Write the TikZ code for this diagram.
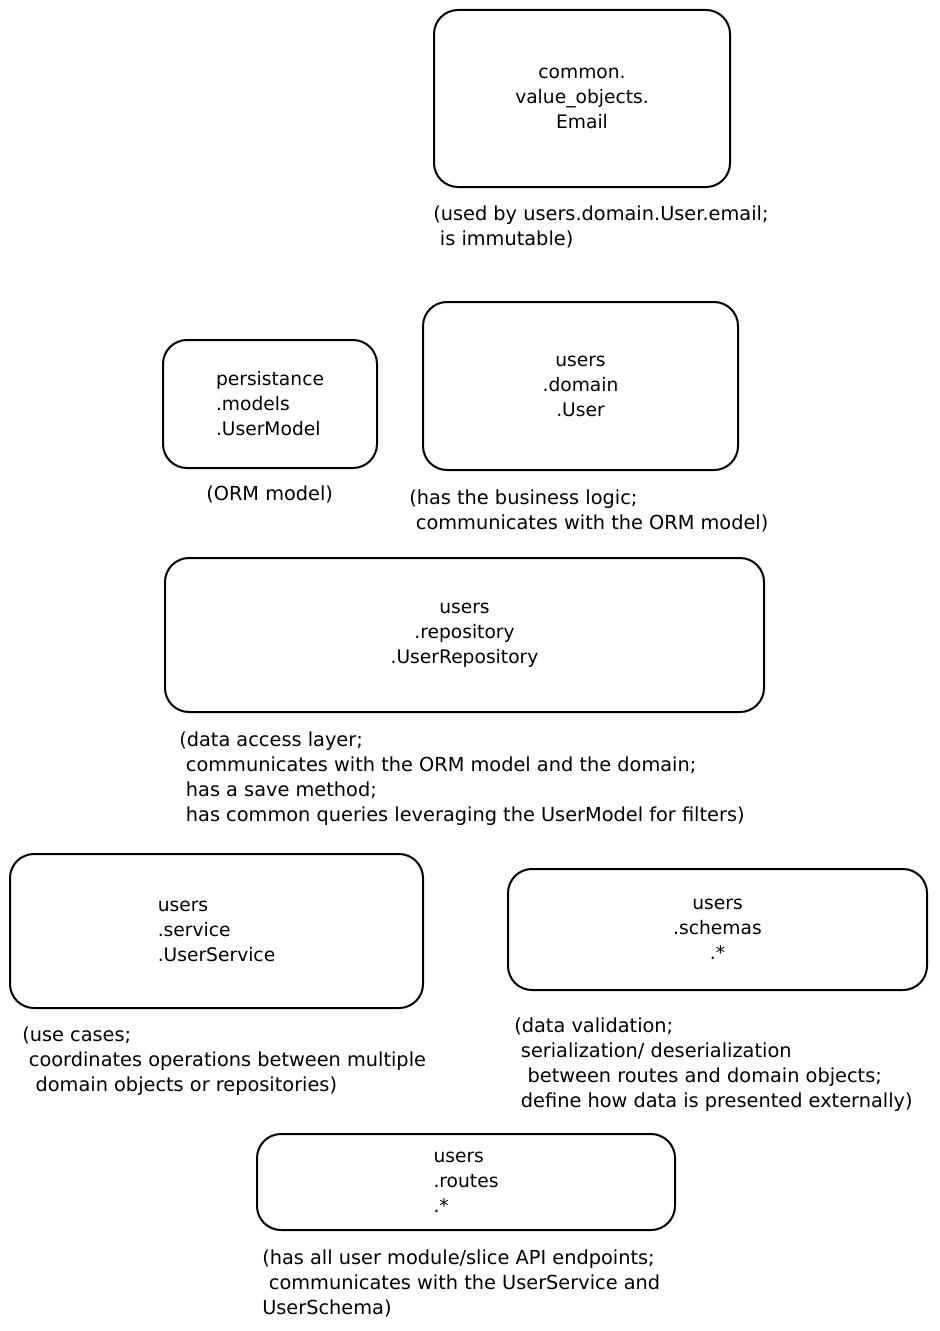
\documentclass[tikz,border=0pt]{standalone}
\usepackage{fontspec}
\setmainfont{DejaVu Sans}
\newcommand{\lead}{\hspace*{5pt}}
\newcommand{\leadd}{\hspace*{10pt}}
\tikzset{
  x=0.75pt, y=-0.75pt,
  box/.style={draw, line width=1.5pt, rounded corners=18pt, align=center,
    inner sep=0pt, font=\fontsize{14}{18.75}\selectfont},
  boxl/.style={box, align=left},
  note/.style={anchor=north west, inner sep=0pt, align=left,
    font=\fontsize{14.5}{18.75}\selectfont},
}
\begin{document}
\begin{tikzpicture}
\useasboundingbox (0,0) rectangle (939,1331);

\node[box, minimum width=222pt, minimum height=132.75pt] (email) at (582,98.5)
  {common.\\value\_objects.\\Email};
\node[note] (emailnote) at (433,206)
  {(used by users.domain.User.email;\\\lead is immutable)};

\node[boxl, minimum width=160.5pt, minimum height=96pt] (model) at (270,404)
  {persistance\\.models\\.UserModel};
\node[note] (modelnote) at (206,486) {(ORM model)};

\node[box, minimum width=236.25pt, minimum height=126pt] (domain) at (580.5,386)
  {users\\.domain\\.User};
\node[note] (domainnote) at (409,490)
  {(has the business logic;\\\lead communicates with the ORM model)};

\node[box, minimum width=449.25pt, minimum height=115.5pt] (repo) at (464.5,635)
  {users\\.repository\\.UserRepository};
\node[note] (reponote) at (179,732)
  {(data access layer;\\\lead communicates with the ORM model and the domain;\\\lead has a save method;\\\lead has common queries leveraging the UserModel for filters)};

\node[boxl, minimum width=309.75pt, minimum height=115.5pt] (service) at (216.5,931)
  {users\\.service\\.UserService};
\node[note] (servicenote) at (22,1027)
  {(use cases;\\\lead coordinates operations between multiple\\\leadd domain objects or repositories)};

\node[box, minimum width=314.25pt, minimum height=90.75pt] (schemas) at (717.5,929.5)
  {users\\.schemas\\.*};
\node[note] (schemasnote) at (514,1018)
  {(data validation;\\\lead serialization/ deserialization\\\leadd between routes and domain objects;\\\lead define how data is presented externally)};

\node[boxl, minimum width=313.5pt, minimum height=72pt] (routes) at (466,1182)
  {users\\.routes\\.*};
\node[note] (routesnote) at (262,1250)
  {(has all user module/slice API endpoints;\\\lead communicates with the UserService and\\UserSchema)};
\end{tikzpicture}
\end{document}
